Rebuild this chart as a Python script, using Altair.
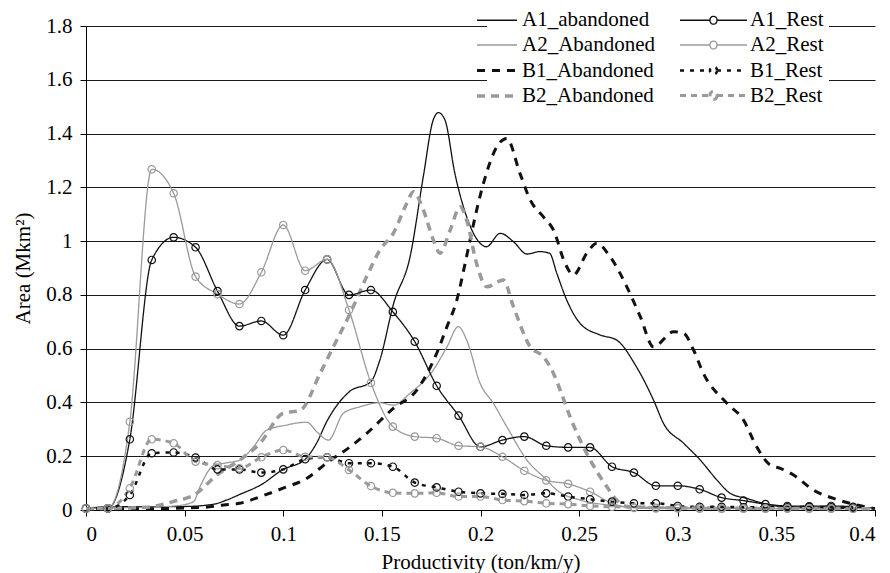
import altair as alt
import pandas as pd

# legend is laid out column by column: first column = abandoned, second = rest
SERIES = ["A1_abandoned", "A2_Abandoned", "B1_Abandoned", "B2_Abandoned",
          "A1_Rest", "A2_Rest", "B1_Rest", "B2_Rest"]

BLACK = "#111111"
GRAY = "#9a9a9a"
COLOR_RANGE = [BLACK, GRAY, BLACK, GRAY, BLACK, GRAY, BLACK, GRAY]
DASH_RANGE = [[1, 0], [1, 0], [8, 7], [8, 6], [1, 0], [1, 0], [4, 6], [6, 5]]
WIDTH_RANGE = [1.3, 1.3, 3.0, 3.5, 1.3, 1.3, 2.5, 3.0]

LINE_PATH = "M-2.62,0H1.19"
REST_PATH = ("M-5,0H-2.14M-1.48,0H1.38M-1.48,0A0.333,0.333,0,1,1,-2.14,0"
             "A0.333,0.333,0,1,1,-1.48,0")
SHAPE_RANGE = [LINE_PATH, LINE_PATH, LINE_PATH, LINE_PATH,
               REST_PATH, REST_PATH, REST_PATH, REST_PATH]

X_TICKS = [0, 0.05, 0.1, 0.15, 0.2, 0.25, 0.3, 0.35, 0.4]
Y_TICKS = [0, 0.2, 0.4, 0.6, 0.8, 1.0, 1.2, 1.4, 1.6, 1.8]

# ---- abandoned (smooth) curves ----
A1_AB_X = [0, 0.011, 0.03, 0.05, 0.065, 0.0713, 0.078, 0.089, 0.0997, 0.111, 0.117,
           0.122, 0.1335, 0.1444, 0.149, 0.156, 0.1643, 0.171, 0.176, 0.1787, 0.182,
           0.187, 0.193, 0.1998, 0.203, 0.21, 0.2167, 0.2235, 0.230, 0.235, 0.2387,
           0.2437, 0.2505, 0.2606, 0.269, 0.279, 0.2877, 0.2928, 0.303, 0.3114,
           0.3198, 0.3266, 0.335, 0.345, 0.3536, 0.37, 0.4]
A1_AB_Y = [0.005, 0.012, 0.012, 0.013, 0.022, 0.037, 0.058, 0.095, 0.150, 0.188, 0.25,
           0.328, 0.44, 0.477, 0.558, 0.769, 0.942, 1.24, 1.45, 1.478, 1.45,
           1.252, 1.09, 0.992, 0.979, 1.029, 0.998, 0.952, 0.961, 0.955, 0.880,
           0.781, 0.694, 0.651, 0.632, 0.533, 0.409, 0.322, 0.248, 0.186,
           0.112, 0.062, 0.043, 0.022, 0.012, 0.01, 0.008]

A2_AB_X = [0, 0.011, 0.03, 0.045, 0.0544, 0.058, 0.0646, 0.071, 0.078, 0.0849, 0.0916,
           0.1018, 0.1085, 0.112, 0.117, 0.1229, 0.1305, 0.139, 0.149, 0.1558, 0.1643,
           0.1761, 0.183, 0.1888, 0.193, 0.1998, 0.2065, 0.2133, 0.2235, 0.2336,
           0.2387, 0.2505, 0.264, 0.28, 0.4]
A2_AB_Y = [0.005, 0.008, 0.01, 0.015, 0.03, 0.09, 0.165, 0.175, 0.186, 0.235, 0.297,
           0.316, 0.325, 0.326, 0.291, 0.260, 0.36, 0.384, 0.399, 0.390, 0.434,
           0.521, 0.607, 0.682, 0.632, 0.471, 0.397, 0.31, 0.186, 0.112,
           0.074, 0.037, 0.019, 0.01, 0.005]

B1_AB_X = [0, 0.03, 0.06, 0.0697, 0.078, 0.0893, 0.0999, 0.112, 0.122, 0.1339, 0.1423,
           0.1558, 0.1677, 0.1778, 0.183, 0.188, 0.1922, 0.1947, 0.2015, 0.2083,
           0.2133, 0.22, 0.2252, 0.2319, 0.237, 0.2429, 0.2471, 0.2539, 0.259,
           0.2657, 0.2742, 0.281, 0.2877, 0.2979, 0.303, 0.308, 0.313, 0.3249,
           0.3333, 0.34, 0.3469, 0.352, 0.3587, 0.3688, 0.379, 0.3908, 0.4]
B1_AB_Y = [0.005, 0.005, 0.01, 0.019, 0.025, 0.052, 0.081, 0.118, 0.175, 0.235, 0.285,
           0.378, 0.446, 0.583, 0.682, 0.781, 0.917, 1.004, 1.215, 1.351,
           1.382, 1.252, 1.153, 1.09, 1.041, 0.917, 0.874, 0.955, 0.992,
           0.942, 0.83, 0.719, 0.607, 0.663, 0.657, 0.595, 0.508, 0.397,
           0.335, 0.235, 0.167, 0.155, 0.130, 0.074, 0.043, 0.019, 0.005]

B2_AB_X = [0, 0.03, 0.044, 0.0553, 0.0663, 0.078, 0.0882, 0.1, 0.1085, 0.1187, 0.1254,
           0.1339, 0.1423, 0.149, 0.1558, 0.1626, 0.166, 0.171, 0.1761, 0.1795,
           0.1846, 0.1897, 0.193, 0.198, 0.2032, 0.2116, 0.2167, 0.2252, 0.2319,
           0.237, 0.2404, 0.2454, 0.2505, 0.2556, 0.264, 0.269, 0.275, 0.3, 0.4]
B2_AB_Y = [0.005, 0.01, 0.031, 0.058, 0.13, 0.186, 0.248, 0.36, 0.37, 0.508, 0.607,
           0.731, 0.868, 0.967, 1.029, 1.14, 1.184, 1.116, 1.004, 0.955,
           1.041, 1.128, 1.078, 0.917, 0.83, 0.855, 0.756, 0.607, 0.57,
           0.508, 0.446, 0.347, 0.26, 0.186, 0.087, 0.037, 0.012, 0.008, 0.005]

# ---- "Rest" series, sampled on regular bins ----
REST_X = [round(i / 90, 5) for i in range(36)]
A1_REST_Y = [0.006, 0.006, 0.263, 0.93, 1.014, 0.977, 0.814, 0.684, 0.703, 0.650,
             0.818, 0.932, 0.80, 0.818, 0.737, 0.626, 0.462, 0.351, 0.235, 0.260,
             0.273, 0.239, 0.233, 0.233, 0.161, 0.139, 0.090, 0.090, 0.077, 0.046,
             0.035, 0.022, 0.015, 0.014, 0.015, 0.012]
A2_REST_Y = [0.006, 0.006, 0.328, 1.267, 1.178, 0.868, 0.803, 0.766, 0.884, 1.060,
             0.890, 0.932, 0.744, 0.473, 0.310, 0.273, 0.267, 0.239, 0.235, 0.198,
             0.146, 0.110, 0.097, 0.068, 0.025, 0.008, 0.006, 0.006, 0.005, 0.005,
             0.005, 0.005, 0.005, 0.005, 0.005, 0.005]
B1_REST_Y = [0.005, 0.006, 0.056, 0.211, 0.214, 0.195, 0.151, 0.151, 0.139, 0.151,
             0.189, 0.196, 0.174, 0.174, 0.161, 0.102, 0.084, 0.068, 0.062, 0.060,
             0.056, 0.062, 0.050, 0.040, 0.031, 0.025, 0.025, 0.015, 0.012, 0.012,
             0.010, 0.010, 0.010, 0.012, 0.010, 0.008]
B2_REST_Y = [0.005, 0.006, 0.081, 0.263, 0.248, 0.180, 0.167, 0.155, 0.196, 0.223,
             0.198, 0.196, 0.149, 0.089, 0.064, 0.062, 0.064, 0.050, 0.050, 0.037,
             0.033, 0.025, 0.022, 0.015, 0.012, 0.010, 0.008, 0.008, 0.007, 0.006,
             0.006, 0.006, 0.006, 0.006, 0.006, 0.005]

groups = [
    ("A1_abandoned", A1_AB_X, A1_AB_Y),
    ("A2_Abandoned", A2_AB_X, A2_AB_Y),
    ("B1_Abandoned", B1_AB_X, B1_AB_Y),
    ("B2_Abandoned", B2_AB_X, B2_AB_Y),
    ("A1_Rest", REST_X, A1_REST_Y),
    ("A2_Rest", REST_X, A2_REST_Y),
    ("B1_Rest", REST_X, B1_REST_Y),
    ("B2_Rest", REST_X, B2_REST_Y),
]
rows = []
for name, xs, ys in groups:
    for xv, yv in zip(xs, ys):
        rows.append({"series": name, "x": xv, "y": yv})
df = pd.DataFrame(rows)
rest_df = df[df["series"].str.endswith("_Rest")]

FONT = "Times New Roman"
FS = 21

LEG = alt.Legend(
    title=None, orient="none", legendX=401, legendY=-22.5, columns=2,
    symbolSize=441, labelOffset=5, rowPadding=3, columnPadding=19,
    padding=5, fillColor="white", labelFont=FONT, labelFontSize=FS,
    labelColor="black", symbolFillColor="transparent", labelLimit=300,
)

AXIS_STYLE = dict(labelFont=FONT, labelFontSize=FS, labelColor="black",
                  titleFont=FONT, titleFontSize=FS, titleColor="black",
                  titleFontWeight="normal", domainColor="black", tickColor="black",
                  tickSize=6)

x_enc = alt.X("x:Q", scale=alt.Scale(domain=[0, 0.4], nice=False, zero=False),
              axis=alt.Axis(values=X_TICKS, format="~g", title="Productivity (ton/km/y)",
                            grid=False, labelPadding=7, titlePadding=7, **AXIS_STYLE))
y_enc = alt.Y("y:Q", scale=alt.Scale(domain=[0, 1.8], nice=False),
              axis=alt.Axis(values=Y_TICKS, format="~g", title="Area (Mkm²)",
                            grid=True, gridColor="#1a1a1a", gridWidth=1,
                            labelPadding=8, titlePadding=12, **AXIS_STYLE))
color_enc = alt.Color("series:N", scale=alt.Scale(domain=SERIES, range=COLOR_RANGE), legend=LEG)
dash_enc = alt.StrokeDash("series:N", scale=alt.Scale(domain=SERIES, range=DASH_RANGE), legend=LEG)
width_enc = alt.StrokeWidth("series:N",
                            scale=alt.Scale(type="ordinal", domain=SERIES, range=WIDTH_RANGE),
                            legend=LEG)

lines = alt.Chart(df).mark_line(interpolate="monotone", strokeCap="butt").encode(
    x=x_enc, y=y_enc, color=color_enc, strokeDash=dash_enc, strokeWidth=width_enc,
    detail="series:N",
)

points = alt.Chart(rest_df).mark_point(filled=False, size=55, strokeWidth=1.2, opacity=1).encode(
    x=x_enc, y=y_enc, color=color_enc,
)

feeder = alt.Chart(df).transform_filter("false").mark_point(opacity=1).encode(
    shape=alt.Shape("series:N", scale=alt.Scale(domain=SERIES, range=SHAPE_RANGE), legend=LEG),
)

chart = alt.layer(lines, points, feeder).properties(
    width=789, height=484,
    padding={"left": 86, "top": 26, "right": 15, "bottom": 63},
    autosize=alt.AutoSizeParams(type="none"),
).configure(font=FONT).configure_view(stroke=None).configure_axis(
    labelFont=FONT, titleFont=FONT, domainWidth=1, tickWidth=1,
)

chart.save("out.html", embed_options={"renderer": "svg", "actions": False})
